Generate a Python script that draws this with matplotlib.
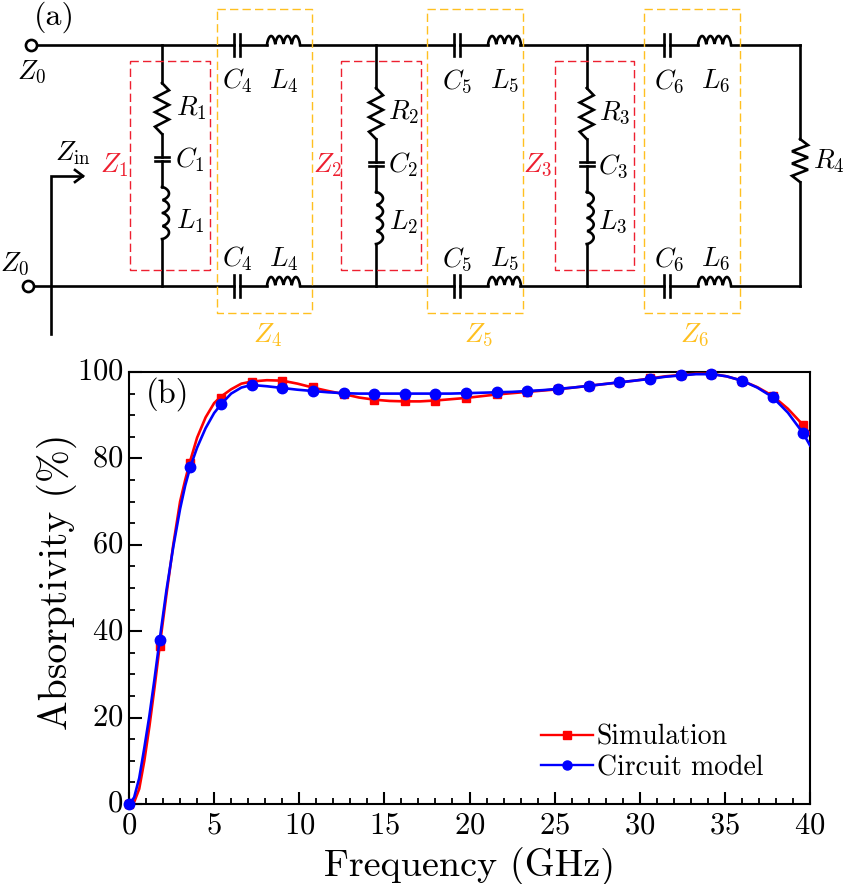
"""
Absorptivity chart with the equivalent circuit above it.
"""

import numpy as np
import matplotlib
matplotlib.use("Agg")
import matplotlib.pyplot as plt
from matplotlib.transforms import ScaledTranslation

WIDTH, HEIGHT = 846, 884
RED_BOX = "#ee2030"
ORANGE_BOX = "#ffc020"

# curve samples
line_freq = [0, 0.3, 0.6, 0.9, 1.2, 1.5, 1.8, 2.2, 2.6, 3.0, 3.3, 3.6, 4.0, 4.5, 5.0, 5.4,
             6.0, 6.6, 7.2, 8.1, 9.0, 9.9, 10.8, 11.7, 12.6, 13.5, 14.4, 15.3, 16.2, 17.1,
             18.0, 18.9, 19.8, 20.7, 21.6, 22.5, 23.4, 24.3, 25.2, 26.1, 27.0, 27.9, 28.8,
             29.7, 30.6, 31.5, 32.4, 33.3, 34.2, 35.1, 36.0, 36.9, 37.8, 38.7, 39.6, 40.0]
sim_line = [0, 0.4, 3.5, 10, 18, 27, 36.5, 48.5, 60, 70, 75, 79.5, 84.8, 89.5, 92.8, 94.3,
            96, 97.3, 97.8, 98.1, 98, 97.3, 96.4, 95.6, 94.9, 94.1, 93.6, 93.3, 93.2, 93.2,
            93.4, 93.7, 94, 94.4, 94.8, 95.1, 95.4, 95.7, 96, 96.4, 96.8, 97.2, 97.6,
            98, 98.5, 99, 99.3, 99.6, 99.6, 99, 98, 96.5, 94.5, 91.5, 87.7, 85.7]
circuit_line = [0, 1.5, 6, 13, 20.5, 29, 38, 49.5, 59.5, 68.3, 73.7, 78, 82.5, 87, 90.5, 92.5,
                95, 96.4, 97, 96.7, 96.3, 95.9, 95.6, 95.3, 95.1, 95, 95, 95, 95, 95,
                95, 95, 95.1, 95.2, 95.3, 95.4, 95.6, 95.8, 96.1, 96.4, 96.8, 97.2, 97.6,
                98, 98.4, 98.9, 99.2, 99.5, 99.5, 99, 98, 96.4, 94.2, 90.6, 85.8, 83]

# marker values
marker_freq = [0, 1.8, 3.6, 5.4, 7.2, 9.0, 10.8, 12.6, 14.4, 16.2, 18.0, 19.8, 21.6, 23.4,
               25.2, 27.0, 28.8, 30.6, 32.4, 34.2, 36.0, 37.8, 39.6]
sim_markers = [0, 36.5, 79, 94, 97.8, 98, 96.5, 95, 93.6, 93.2, 93.4, 94, 94.8, 95.4,
               96, 96.8, 97.6, 98.5, 99.3, 99.6, 98, 94.5, 87.7]
circuit_markers = [0, 38, 78, 92.5, 97, 96.3, 95.6, 95.1, 95, 95, 95, 95.1, 95.3, 95.6,
                   96.1, 96.8, 97.6, 98.4, 99.2, 99.5, 98, 94.2, 85.8]

x_ticks = [0, 5, 10, 15, 20, 25, 30, 35, 40]
y_ticks = [0, 20, 40, 60, 80, 100]

TOP_Y, BOTTOM_Y = 45, 286
WIRE_LW = 1.9


def wire(ax, xs, ys):
    ax.plot(xs, ys, color="black", lw=WIRE_LW, solid_capstyle="projecting", solid_joinstyle="miter")


def series_cap(ax, x, y):
    wire(ax, [x - 3, x - 3], [y - 11, y + 11])
    wire(ax, [x + 3, x + 3], [y - 11, y + 11])


def shunt_cap(ax, x, y):
    wire(ax, [x - 7, x + 7], [y - 2, y - 2])
    wire(ax, [x - 7, x + 7], [y + 2, y + 2])


def series_coil(ax, x0, x1, y):
    t = np.linspace(0, 1, 200)
    humps = np.abs(np.sin(t * 4 * np.pi)) ** 0.6
    wire(ax, x0 + (x1 - x0) * t, y - 9 * humps)


def shunt_coil(ax, x, y0, y1):
    t = np.linspace(0, 1, 200)
    humps = np.abs(np.sin(t * 4 * np.pi)) ** 0.6
    wire(ax, x + 7 * humps, y0 + (y1 - y0) * t)


def zigzag(ax, x, y0, y1, amp):
    ys = np.linspace(y0, y1, 8)
    xs = [x, x + amp, x - amp, x + amp, x - amp, x + amp, x - amp, x]
    wire(ax, xs, ys)


def dashed_box(ax, x0, x1, y0, y1, color):
    ax.plot([x0, x1, x1, x0, x0], [y0, y0, y1, y1, y0], color=color, lw=1.0, dashes=(6, 3))


def math_label(ax, x, y, s, color="black"):
    ax.text(x, y, s, color=color, fontsize=19.5, ha="center", va="center")


def draw_circuit(ax):
    ax.set_xlim(0, WIDTH)
    ax.set_ylim(HEIGHT, 0)
    ax.axis("off")

    # rails, broken at the capacitors
    for y, start in [(TOP_Y, 37), (BOTTOM_Y, 34)]:
        wire(ax, [start, 234], [y, y])
        wire(ax, [240, 267], [y, y])
        wire(ax, [300, 454], [y, y])
        wire(ax, [460, 488], [y, y])
        wire(ax, [520, 664], [y, y])
        wire(ax, [670, 698], [y, y])
        wire(ax, [731, 800], [y, y])
        for cap_x, coil_x in [(237, 267), (457, 488), (667, 698)]:
            series_cap(ax, cap_x, y)
            series_coil(ax, coil_x, coil_x + 33, y)

    # terminals and port arrow
    ax.plot([31], [45], "o", ms=8, mfc="white", mec="black", mew=WIRE_LW, zorder=3)
    ax.plot([28], [286], "o", ms=8, mfc="white", mec="black", mew=WIRE_LW, zorder=3)
    wire(ax, [51, 51, 82], [334, 176, 176])
    wire(ax, [75, 83, 75], [170, 176, 182])

    # shunt branches
    branches = [(162, 83, 134, 159, 187, 239), (376, 88, 139, 164, 192, 244),
                (586.7, 88, 139, 164, 192, 244)]
    for x, r0, r1, cap, l0, l1 in branches:
        wire(ax, [x, x], [TOP_Y, r0])
        zigzag(ax, x, r0, r1, 7)
        wire(ax, [x, x], [r1, cap - 2])
        shunt_cap(ax, x, cap)
        wire(ax, [x, x], [cap + 2, l0])
        shunt_coil(ax, x, l0, l1)
        wire(ax, [x, x], [l1, BOTTOM_Y])

    # end resistor
    wire(ax, [800, 800], [TOP_Y, 139])
    zigzag(ax, 800, 139, 182, 8)
    wire(ax, [800, 800], [182, BOTTOM_Y])

    for x0, x1 in [(130, 210), (341, 421), (555, 634)]:
        dashed_box(ax, x0, x1, 61, 270, RED_BOX)
    for x0, x1 in [(216.5, 312), (427, 523), (644, 740)]:
        dashed_box(ax, x0, x1, 9, 312.5, ORANGE_BOX)

    ax.text(54, 17, "(a)", fontsize=23, ha="center", va="center")
    math_label(ax, 32, 72, r"$Z_0$")
    math_label(ax, 15, 264, r"$Z_0$")
    math_label(ax, 73, 153, r"$Z_{\mathrm{in}}$")

    for x, y, s in [(191, 108, r"$R_1$"), (190, 160, r"$C_1$"), (190, 221, r"$L_1$"),
                    (404, 112, r"$R_2$"), (403, 165, r"$C_2$"), (403, 222, r"$L_2$"),
                    (615, 113, r"$R_3$"), (613, 166, r"$C_3$"), (613, 222, r"$L_3$"),
                    (829, 161, r"$R_4$")]:
        math_label(ax, x, y, s)
    for x, s, t in [(237, r"$C_4$", r"$L_4$"), (457, r"$C_5$", r"$L_5$"), (669, r"$C_6$", r"$L_6$")]:
        coil_x = x + 47
        for y in (81, 259):
            math_label(ax, x, y, s)
            math_label(ax, coil_x, y, t)

    for x, s in [(114, r"$Z_1$"), (327, r"$Z_2$"), (538, r"$Z_3$")]:
        math_label(ax, x, 165, s, RED_BOX)
    for x, s in [(268, r"$Z_4$"), (478, r"$Z_5$"), (695, r"$Z_6$")]:
        math_label(ax, x, 335, s, ORANGE_BOX)


def draw_chart(ax):
    ax.plot(line_freq, sim_line, color="#ff0000", lw=1.9, zorder=3)
    ax.plot(marker_freq, sim_markers, ls="none", marker="s", ms=6, color="#ff0000",
            clip_on=False, zorder=4)
    ax.plot(line_freq, circuit_line, color="#0000ff", lw=1.9, zorder=5)
    ax.plot(marker_freq, circuit_markers, ls="none", marker="o", ms=7.5, color="#0000ff",
            clip_on=False, zorder=6)

    ax.plot([], [], color="#ff0000", lw=1.7, marker="s", ms=5.5, label="Simulation")
    ax.plot([], [], color="#0000ff", lw=1.7, marker="o", ms=6.5, label="Circuit model")

    ax.set_xlim(0, 40)
    ax.set_ylim(0, 100)
    ax.set_xticks(x_ticks)
    ax.set_yticks(y_ticks)
    ax.set_xticks(np.arange(0, 41, 1), minor=True)
    ax.set_yticks(np.arange(0, 101, 5), minor=True)
    ax.tick_params(which="major", direction="in", length=9, width=1.5, labelsize=22)
    ax.tick_params(which="minor", direction="in", length=4.5, width=1.3)
    ax.tick_params(axis="x", which="major", pad=6)
    ax.tick_params(axis="y", which="major", pad=4)
    for spine in ax.spines.values():
        spine.set_linewidth(1.5)

    # y tick labels sit slightly above their ticks in the original
    nudge = ScaledTranslation(0, 2 / 72, ax.figure.dpi_scale_trans)
    for label in ax.get_yticklabels():
        label.set_transform(label.get_transform() + nudge)

    ax.set_xlabel("Frequency (GHz)", fontsize=27.5, labelpad=5)
    ax.set_ylabel("Absorptivity (%)", fontsize=28.5, labelpad=0, y=0.515)
    ax.text(168, 394, "(b)", fontsize=23.5, ha="center", va="center",
            transform=ax.figure.axes[0].transData)
    ax.legend(loc="lower left", bbox_to_anchor=(0.605, 0.053), frameon=False, fontsize=20,
              handlelength=1.87, handletextpad=0.13, labelspacing=0.15, borderpad=0,
              borderaxespad=0)


def main():
    plt.rcParams["font.family"] = ["cmr10", "DejaVu Sans"]
    plt.rcParams["mathtext.fontset"] = "cm"
    plt.rcParams["axes.formatter.use_mathtext"] = True

    fig = plt.figure(figsize=(WIDTH / 100, HEIGHT / 100), dpi=100)
    ax_top = fig.add_axes([0, 0, 1, 1])
    draw_circuit(ax_top)

    ax = fig.add_axes([129 / WIDTH, (HEIGHT - 804) / HEIGHT, 681 / WIDTH, 432 / HEIGHT])
    ax.patch.set_alpha(0)
    draw_chart(ax)

    fig.savefig("out.png", dpi=100)
    plt.close(fig)


if __name__ == "__main__":
    main()
